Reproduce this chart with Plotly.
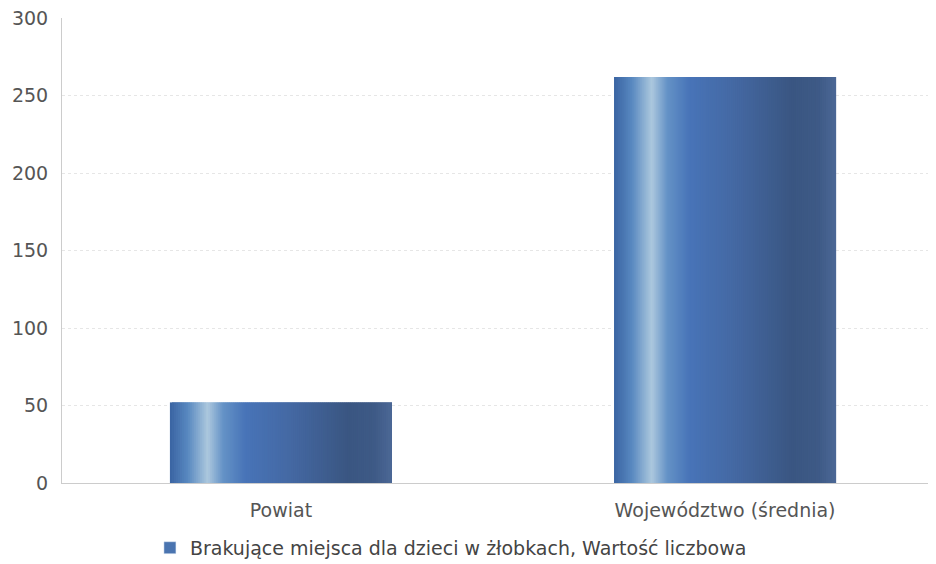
import plotly.graph_objects as go

categories = ["Powiat", "Województwo (średnia)"]
values = [52, 262]
series_name = "Brakujące miejsca dla dzieci w żłobkach, Wartość liczbowa"
y_ticks = [0, 50, 100, 150, 200, 250, 300]

# horizontal gradient stops across each bar (fraction, rgb)
stops = [
    (0.00, (58, 100, 162)),
    (0.08, (88, 136, 192)),
    (0.17, (172, 200, 222)),
    (0.24, (100, 146, 198)),
    (0.34, (72, 116, 184)),
    (0.55, (68, 104, 162)),
    (0.80, (58, 86, 130)),
    (0.92, (62, 90, 134)),
    (1.00, (76, 104, 150)),
]


def color_at(t):
    for (t0, c0), (t1, c1) in zip(stops[:-1], stops[1:]):
        if t0 <= t <= t1:
            f = (t - t0) / (t1 - t0) if t1 > t0 else 0
            c = [round(a + (b - a) * f) for a, b in zip(c0, c1)]
            return f"rgb({c[0]},{c[1]},{c[2]})"
    c = stops[-1][1]
    return f"rgb({c[0]},{c[1]},{c[2]})"


bar_width = 0.5
n = 110
slice_w = bar_width / n

fig = go.Figure()
for i in range(n):
    t = (i + 0.5) / n
    w = slice_w * (2.0 if i < n - 1 else 1.0)
    fig.add_trace(go.Bar(
        x=categories,
        y=values,
        width=w,
        offset=-bar_width / 2 + i * slice_w,
        marker=dict(color=color_at(t), line=dict(width=0)),
        showlegend=False,
        hoverinfo="skip",
        name=series_name,
    ))

# legend entry
fig.add_trace(go.Bar(
    x=[categories[0]], y=[None], name=series_name,
    marker=dict(color="rgb(74,116,176)"), showlegend=True,
))

fig.update_layout(
    width=928, height=556,
    margin=dict(l=54, r=0, t=10, b=81),
    paper_bgcolor="white", plot_bgcolor="white",
    barmode="overlay",
    font=dict(family="DejaVu Sans, sans-serif", color="#555555", size=19),
    showlegend=True,
    legend=dict(
        orientation="h", x=0.445, xanchor="center",
        yref="container", y=0.029, yanchor="middle",
        font=dict(size=19, color="#444444"), itemwidth=30,
    ),
    xaxis=dict(
        type="category", range=[-0.493, 1.475], automargin=False,
        showgrid=False, showline=True, linecolor="#cccccc", linewidth=1,
        tickfont=dict(size=19, color="#555555"), ticks="",
        ticklabelstandoff=10,
    ),
    yaxis=dict(
        range=[0, 300], tickvals=y_ticks, showgrid=True, automargin=False,
        gridcolor="#e6e6e6", griddash="dot", gridwidth=1,
        showline=True, linecolor="#cccccc", linewidth=1,
        zeroline=False, ticks="", ticklabelstandoff=9,
        ticklabeloverflow="allow",
        tickfont=dict(size=19, color="#555555"),
    ),
)

fig.write_html("out.html")
